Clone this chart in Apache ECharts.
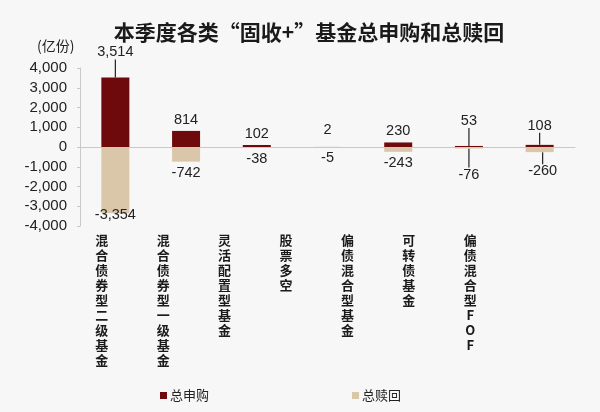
<!DOCTYPE html>
<html lang="zh-CN">
<head>
    <meta charset="UTF-8">
    <title>固收+ 基金申赎</title>
    <style>
        * { margin: 0; padding: 0; }
        body { background: #f7f7f7; }
        #chart { width: 600px; height: 412px; }
    </style>
</head>
<body>
    <div id="chart"></div>
    <script src="https://cdn.jsdelivr.net/npm/echarts@6/dist/echarts.min.js"></script>
    <script>
        var categories = ['混合债券型二级基金', '混合债券型一级基金', '灵活配置型基金', '股票多空', '偏债混合型基金', '可转债基金', '偏债混合型FOF'];
        var subscribe = [3514, 814, 102, 2, 230, 53, 108];
        var redeem = [-3354, -742, -38, -5, -243, -76, -260];
        var yTicks = [-4000, 4000, 1000];

        // 标签偏移（像素），大的偏移画引导线，模仿原图
        var subShift = [-14, 0, 0, -6, 0, -14, -8];
        var redShift = [-9, 0, 0, 0, 0, 15, 8];
        var redShiftX = [0, 0, 0, 0, 0, 0, 3];

        var font = '"Noto Sans CJK SC", "Noto Sans", sans-serif';
        var numFont = '"Liberation Sans", "Noto Sans CJK SC", sans-serif';
        var chart = echarts.init(document.getElementById('chart'));

        function fmt(v) {
            return v.toLocaleString('en-US');
        }

        function withLines(values, shift) {
            return values.map(function (v, i) {
                return { value: v, labelLine: { show: Math.abs(shift[i]) > 7 } };
            });
        }

        var option = {
            backgroundColor: '#f7f7f7',
            textStyle: { fontFamily: font },
            title: [{
                text: '本季度各类“固收+”基金总申购和总赎回',
                left: 304,
                textAlign: 'center',
                top: 17,
                textStyle: { fontSize: 21, fontWeight: 'bold', color: '#1a1a1a', fontFamily: font }
            }, {
                text: '(亿份)',
                left: 32,
                top: 34,
                textStyle: { fontSize: 14, fontWeight: 'normal', color: '#222', fontFamily: font }
            }],
            legend: {
                left: 155,
                top: 384,
                itemWidth: 7,
                itemHeight: 7,
                itemGap: 143,
                icon: 'rect',
                textStyle: { fontSize: 13, color: '#222', padding: [0, 0, 0, -2] },
                data: ['总申购', '总赎回']
            },
            grid: [
                { left: 80, right: 25, top: 68, bottom: 186 },
                { left: 71, width: 430, top: 228, height: 1 }
            ],
            xAxis: [{
                type: 'category',
                gridIndex: 0,
                data: categories,
                axisLine: { lineStyle: { color: '#c8c8c8' } },
                axisTick: { show: false },
                axisLabel: { show: false }
            }, {
                type: 'category',
                gridIndex: 1,
                data: categories,
                axisLine: { show: false },
                axisTick: { show: false },
                axisLabel: {
                    interval: 0,
                    margin: 4,
                    fontSize: 13,
                    fontWeight: 'bold',
                    lineHeight: 15,
                    color: '#1a1a1a',
                    verticalAlign: 'top',
                    formatter: function (v) { return v.split('').join('\n'); }
                }
            }],
            yAxis: [{
                type: 'value',
                gridIndex: 0,
                min: yTicks[0],
                max: yTicks[1],
                interval: yTicks[2],
                axisLine: { show: true, lineStyle: { color: '#c8c8c8' } },
                axisTick: { show: true, length: 3, lineStyle: { color: '#c8c8c8' } },
                splitLine: { show: false },
                axisLabel: {
                    fontSize: 15,
                    fontFamily: numFont,
                    color: '#222',
                    margin: 13,
                    formatter: fmt
                }
            }, {
                type: 'value',
                gridIndex: 1,
                show: false
            }],
            series: [{
                name: '总申购',
                type: 'bar',
                data: withLines(subscribe, subShift),
                barWidth: 28,
                barGap: '-100%',
                itemStyle: { color: '#6e0a0c' },
                label: {
                    show: true,
                    position: 'top',
                    distance: 4,
                    fontSize: 14.5,
                    fontFamily: numFont,
                    color: '#222',
                    formatter: function (p) { return fmt(p.value); }
                },
                labelLine: { lineStyle: { color: '#222', width: 1.2 } },
                labelLayout: function (p) {
                    return { dy: subShift[p.dataIndex] };
                }
            }, {
                name: '总赎回',
                type: 'bar',
                data: withLines(redeem, redShift),
                barWidth: 28,
                itemStyle: { color: '#dac6a8' },
                label: {
                    show: true,
                    position: 'bottom',
                    distance: 4,
                    fontSize: 14.5,
                    fontFamily: numFont,
                    color: '#222',
                    formatter: function (p) { return fmt(p.value); }
                },
                labelLine: { lineStyle: { color: '#222', width: 1.2 } },
                labelLayout: function (p) {
                    return { dy: redShift[p.dataIndex], dx: redShiftX[p.dataIndex] };
                }
            }]
        };

        chart.setOption(option);
    </script>
</body>
</html>
